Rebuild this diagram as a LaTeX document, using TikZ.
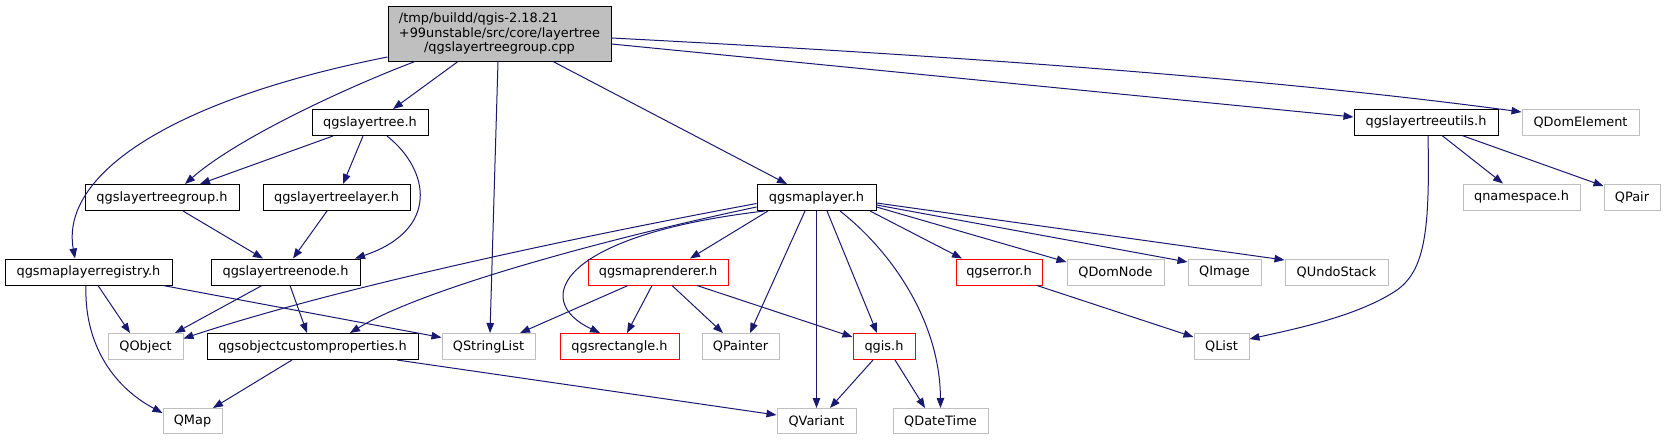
\documentclass[tikz,border=0pt]{standalone}
\usepackage{fontspec}
\setmainfont{DejaVu Sans}
\usetikzlibrary{arrows.meta}
\definecolor{edgec}{HTML}{191970}
\definecolor{grayb}{HTML}{BFBFBF}
\definecolor{redb}{HTML}{FF0000}
\definecolor{mainfill}{HTML}{BFBFBF}
\begin{document}
\begin{tikzpicture}[x=1pt,y=-1pt,
  box/.style={draw, line width=1pt, inner sep=0pt, minimum height=26pt, font=\fontsize{12.9}{14.5}\selectfont},
  blackbox/.style={box, draw=black},
  graybox/.style={box, draw=grayb},
  redbox/.style={box, draw=redb},
  dep/.style={draw=edgec, line width=1pt, -{Triangle[length=10pt,width=7.5pt]}}]
\useasboundingbox (0,0) rectangle (1666,440);
% nodes
\node[blackbox, fill=mainfill, minimum width=223pt, minimum height=55pt, align=center] (main) at (499.5,33.5)
  {\makebox[0pt][l]{/tmp/buildd/qgis-2.18.21}\phantom{+99unstable/src/core/layertree}\\+99unstable/src/core/layertree\\/qgslayertreegroup.cpp};
\node[blackbox, minimum width=116pt] (ltree) at (370,122.5) {qgslayertree.h};
\node[blackbox, minimum width=144pt] (utils) at (1426,122) {qgslayertreeutils.h};
\node[graybox, minimum width=117pt] (qdomel) at (1580.5,122) {QDomElement};
\node[blackbox, minimum width=154pt] (ltgroup) at (162,197.5) {qgslayertreegroup.h};
\node[blackbox, minimum width=147pt] (ltlayer) at (336.5,197.5) {qgslayertreelayer.h};
\node[blackbox, minimum width=119pt] (maplayer) at (816.5,197.5) {qgsmaplayer.h};
\node[graybox, minimum width=117pt] (qns) at (1521.5,197) {qnamespace.h};
\node[graybox, minimum width=56pt] (qpair) at (1632,197) {QPair};
\node[blackbox, minimum width=167pt] (registry) at (88.5,272) {qgsmaplayerregistry.h};
\node[blackbox, minimum width=149pt] (ltnode) at (285.5,272) {qgslayertreenode.h};
\node[redbox, minimum width=140pt] (renderer) at (658,272) {qgsmaprenderer.h};
\node[redbox, minimum width=86pt] (qgserror) at (999,272) {qgserror.h};
\node[graybox, minimum width=97pt] (qdomnode) at (1115.5,272) {QDomNode};
\node[graybox, minimum width=73pt] (qimage) at (1224.5,272) {QImage};
\node[graybox, minimum width=103pt] (qundo) at (1336.5,272) {QUndoStack};
\node[graybox, minimum width=75pt] (qobject) at (145.5,346.5) {QObject};
\node[blackbox, minimum width=211pt] (ocp) at (312.5,346.5) {qgsobjectcustomproperties.h};
\node[graybox, minimum width=93pt] (qsl) at (488.5,346.5) {QStringList};
\node[redbox, minimum width=119pt] (rect) at (619.5,346.5) {qgsrectangle.h};
\node[graybox, minimum width=77pt] (qpainter) at (740.5,346.5) {QPainter};
\node[redbox, minimum width=62pt] (qgis) at (884,346.5) {qgis.h};
\node[graybox, minimum width=55pt] (qlist) at (1221.5,346.5) {QList};
\node[graybox, minimum width=59pt, minimum height=25pt] (qmap) at (192.5,421) {QMap};
\node[graybox, minimum width=79pt, minimum height=25pt] (qvariant) at (816.5,421) {QVariant};
\node[graybox, minimum width=95pt, minimum height=25pt] (qdt) at (940.5,421) {QDateTime};
% edges from main
\draw[dep] ([yshift=-23.5]main.west) .. controls (170,100) and (60,175) .. ([xshift=-13.5]registry.north);
\draw[dep] ([xshift=-84.5]main.south) .. controls (340,90) and (235,140) .. ([xshift=23]ltgroup.north);
\draw[dep] ([xshift=-41.5]main.south) -- ([xshift=23]ltree.north);
\draw[dep] ([xshift=-1.5]main.south) -- ([xshift=1.5]qsl.north);
\draw[dep] ([xshift=53.5]main.south) -- ([xshift=-29.5]maplayer.north);
\draw[dep] ([yshift=-10.5]main.east) -- ([yshift=5]utils.west);
\draw[dep] ([yshift=-4.5]main.east) .. controls (1000,58) and (1300,82) .. ([yshift=10]qdomel.west);
% layer tree
\draw[dep] ([xshift=-37]ltree.south) -- ([xshift=38]ltgroup.north);
\draw[dep] ([xshift=-7]ltree.south) -- ([xshift=6.5]ltlayer.north);
\draw[dep] ([xshift=17]ltree.south) .. controls (430,170) and (440,230) .. ([xshift=69.5]ltnode.north);
\draw[dep] ([xshift=21]ltgroup.south) -- ([xshift=-22.5]ltnode.north);
\draw[dep] ([xshift=-9.5]ltlayer.south) -- ([xshift=7.5]ltnode.north);
% registry
\draw[dep] ([xshift=9.5]registry.south) -- ([xshift=-15.5]qobject.north);
\draw[dep] ([xshift=-2.5]registry.south) .. controls (84,340) and (110,385) .. ([yshift=8]qmap.west);
\draw[dep] ([xshift=74.5]registry.south) -- ([yshift=9]qsl.west);
% layer tree node
\draw[dep] ([xshift=-23.5]ltnode.south) -- ([xshift=29.5]qobject.north);
\draw[dep] ([xshift=4.5]ltnode.south) -- ([xshift=-5.5]ocp.north);
% ocp
\draw[dep] ([xshift=-20.5]ocp.south) -- ([xshift=20.5]qmap.north);
\draw[dep] ([xshift=84.5]ocp.south) -- ([yshift=6]qvariant.west);
% maplayer
\draw[dep] ([yshift=-6]maplayer.west) .. controls (560,240) and (330,290) .. ([yshift=8]qobject.east);
\draw[dep] ([yshift=-9.5]maplayer.west) .. controls (600,240) and (420,290) .. ([xshift=37.5]ocp.north);
\draw[dep] ([xshift=-52]maplayer.south) .. controls (560,235) and (530,300) .. ([xshift=-19.5]rect.north);
\draw[dep] ([xshift=-48.5]maplayer.south) -- ([xshift=32]renderer.north);
\draw[dep] ([xshift=-11.5]maplayer.south) -- ([xshift=9.5]qpainter.north);
\draw[dep] (maplayer.south) -- (qvariant.north);
\draw[dep] ([xshift=10.5]maplayer.south) -- ([xshift=-7]qgis.north);
\draw[dep] ([xshift=23.5]maplayer.south) .. controls (890,250) and (940,320) .. (qdt.north);
\draw[dep] ([xshift=53.5]maplayer.south) -- ([xshift=-37]qgserror.north);
\draw[dep] ([yshift=-9.5]maplayer.east) -- ([yshift=10]qdomnode.west);
\draw[dep] ([yshift=-7.5]maplayer.east) -- ([yshift=10]qimage.west);
\draw[dep] ([yshift=-5.5]maplayer.east) -- ([yshift=12]qundo.west);
% renderer
\draw[dep] ([xshift=-30]renderer.south) -- ([xshift=31.5]qsl.north);
\draw[dep] ([xshift=-6]renderer.south) -- ([xshift=7.5]rect.north);
\draw[dep] ([xshift=14]renderer.south) -- ([xshift=-17.5]qpainter.north);
\draw[dep] ([xshift=39]renderer.south) -- ([yshift=9.5]qgis.west);
% qgis
\draw[dep] ([xshift=-11]qgis.south) -- ([xshift=13.5]qvariant.north);
\draw[dep] ([xshift=11]qgis.south) -- ([xshift=-15.5]qdt.north);
% qgserror
\draw[dep] ([xshift=38]qgserror.south) -- ([yshift=9.5]qlist.west);
% utils
\draw[dep] ([xshift=16]utils.south) -- ([xshift=-18.5]qns.north);
\draw[dep] ([xshift=36]utils.south) -- ([yshift=11]qpair.west);
\draw[dep] ([xshift=2]utils.south) .. controls (1430,230) and (1425,270) .. (1397,290) .. controls (1360,315) and (1300,328) .. ([yshift=7.5]qlist.east);
\end{tikzpicture}
\end{document}
